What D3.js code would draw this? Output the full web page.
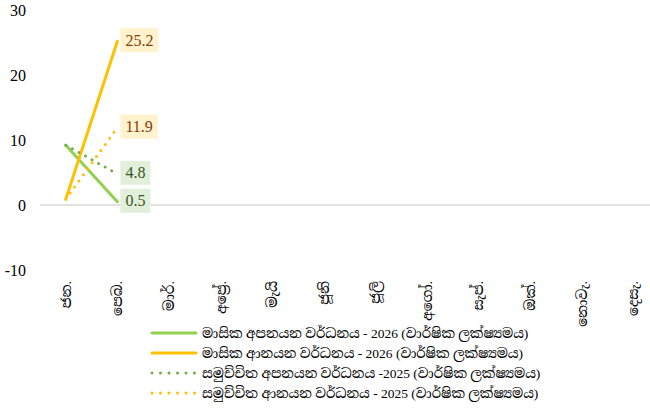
<!DOCTYPE html>
<html>
<head>
<meta charset="utf-8">
<script src="https://cdn.jsdelivr.net/npm/d3@7"></script>
<style>
  body { margin: 0; background: #fff; }
  text { font-family: "Liberation Serif", "Noto Serif Sinhala", "Noto Sans Sinhala", serif; }
</style>
</head>
<body>
<div id="chart"></div>
<script>
var months = ['ජන.', 'පෙබ.', 'මාර්.', 'අප්‍රේ.', 'මැයි', 'ජූනි', 'ජූලි', 'අගෝ.', 'සැප්.', 'ඔක්.', 'නොවැ.', 'දෙසැ.']
var yTicks = [-10, 0, 10, 20, 30]

var expMonthly2026 = [9.2, 0.5]
var revMonthly2026 = [0.9, 25.2]
var expCumul2025 = [9.2, 4.8]
var revCumul2025 = [0.9, 11.9]

var seriesNames = [
	'මාසික අපනයන වර්ධනය - 2026 (වාර්ෂික ලක්ෂ්‍යමය)',
	'මාසික ආනයන වර්ධනය - 2026 (වාර්ෂික ලක්ෂ්‍යමය)',
	'සමුච්චිත අපනයන වර්ධනය -2025 (වාර්ෂික ලක්ෂ්‍යමය)',
	'සමුච්චිත ආනයන වර්ධනය - 2025 (වාර්ෂික ලක්ෂ්‍යමය)'
]

var series = [
	{ name: seriesNames[0], values: expMonthly2026, color: '#92D050', dotted: false, box: '#E2EFDA', ink: '#375623' },
	{ name: seriesNames[1], values: revMonthly2026, color: '#FFC000', dotted: false, box: '#FFF2CC', ink: '#843C0C' },
	{ name: seriesNames[2], values: expCumul2025, color: '#70AD47', dotted: true, box: '#E2EFDA', ink: '#375623' },
	{ name: seriesNames[3], values: revCumul2025, color: '#FFC000', dotted: true, box: '#FFF2CC', ink: '#843C0C' }
]

var width = 650,
	height = 408

var svg = d3.select('#chart').append('svg')
	.attr('width', width)
	.attr('height', height)

var x = d3.scalePoint()
	.domain(months)
	.range([40, 659])
	.padding(0.5)

var y = d3.scaleLinear()
	.domain([-10, 30])
	.range([270, 10])

// zero line
svg.append('line')
	.attr('x1', 40).attr('x2', 650)
	.attr('y1', y(0)).attr('y2', y(0))
	.attr('stroke', '#d9d9d9')
	.attr('stroke-width', 1.5)

// y labels
svg.selectAll('.ytick')
	.data(yTicks)
	.enter().append('text')
	.attr('class', 'ytick')
	.attr('x', 26)
	.attr('y', function (d) { return y(d) })
	.attr('dy', '0.35em')
	.attr('text-anchor', 'end')
	.attr('font-size', 16)
	.attr('fill', '#000')
	.text(function (d) { return d })

// month labels
svg.selectAll('.xtick')
	.data(months)
	.enter().append('text')
	.attr('class', 'xtick')
	.attr('transform', function (d) { return 'translate(' + (x(d) + 5) + ',281) rotate(-90)' })
	.attr('text-anchor', 'end')
	.attr('font-size', 14)
	.attr('fill', '#000')
	.text(function (d) { return d })

var line = d3.line()
	.x(function (d, i) { return x(months[i]) })
	.y(function (d) { return y(d) })

// lines
series.forEach(function (s) {
	svg.append('path')
		.datum(s.values)
		.attr('d', line)
		.attr('fill', 'none')
		.attr('stroke', s.color)
		.attr('stroke-width', 3)
		.attr('stroke-linecap', 'round')
		.attr('stroke-dasharray', s.dotted ? '0 7.5' : null)
})

// data labels
series.forEach(function (s) {
	var i = s.values.length - 1
	var v = s.values[i]
	var px = x(months[i]) + 3
	var py = y(v) - 1
	var g = svg.append('g')
	var t = g.append('text')
		.attr('x', px + 5)
		.attr('y', py)
		.attr('dy', '0.35em')
		.attr('font-size', 16)
		.attr('fill', s.ink)
		.text(v.toFixed(1))
	var w = t.node().getComputedTextLength()
	g.insert('rect', 'text')
		.attr('x', px)
		.attr('y', py - 12)
		.attr('width', w + 10)
		.attr('height', 24)
		.attr('fill', s.box)
})

// legend
var legend = svg.selectAll('.legend')
	.data(series)
	.enter().append('g')
	.attr('class', 'legend')
	.attr('transform', function (d, i) { return 'translate(0,' + (333 + i * 20) + ')' })

legend.append('line')
	.attr('x1', 152).attr('x2', 196)
	.attr('y1', 0).attr('y2', 0)
	.attr('stroke', function (d) { return d.color })
	.attr('stroke-width', 3)
	.attr('stroke-linecap', 'round')
	.attr('stroke-dasharray', function (d) { return d.dotted ? '0 8.5' : null })

legend.append('text')
	.attr('x', 202)
	.attr('y', 0)
	.attr('dy', '0.35em')
	.attr('font-size', 13.5)
	.attr('fill', '#000')
	.text(function (d) { return d.name })
</script>
</body>
</html>
